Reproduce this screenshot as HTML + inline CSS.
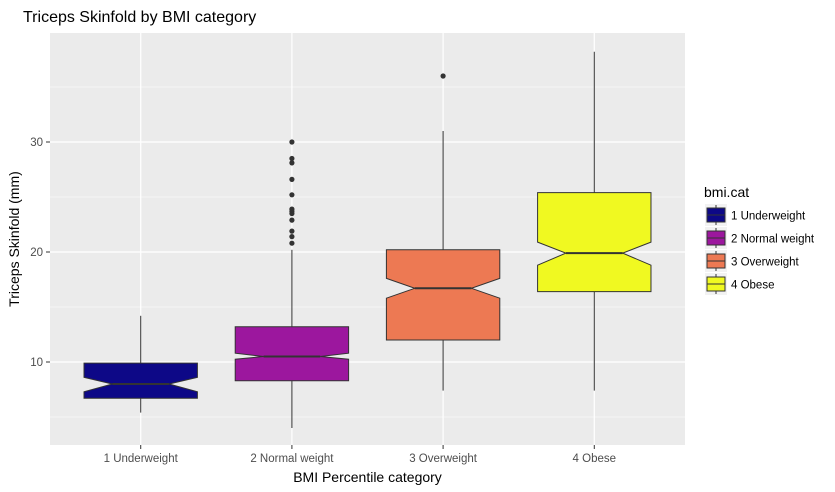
<!DOCTYPE html>
<html><head><meta charset="utf-8"><style>
body{margin:0;background:#fff;}
svg{display:block;font-family:"Liberation Sans",Arial,sans-serif;}
</style></head><body>
<svg id="chart" width="835" height="492"></svg>
<script>
const categories=["1 Underweight","2 Normal weight","3 Overweight","4 Obese"];
const colors=["#0d0887","#9c179e","#ed7953","#f0f921"];
const lowerWhisker=[5.4,4.0,7.4,7.4];
const q1=[6.7,8.3,12.0,16.4];
const medians=[8.0,10.5,16.7,19.9];
const q3=[9.9,13.2,20.2,25.4];
const upperWhisker=[14.2,20.2,31.0,38.2];
const notchLo=[7.3,10.25,15.8,18.8];
const notchHi=[8.6,10.8,17.6,20.9];
const outliers=[[],[30,28.5,28.1,26.6,25.2,23.9,23.7,23.5,22.9,21.9,21.4,20.8],[36],[]];
const yTicks=[10,20,30];
const yMinor=[5,15,25,35];

const NS="http://www.w3.org/2000/svg";
const svg=document.getElementById('chart');
const PL=50,PR=685,PT=33,PB=445;
const y=v=>472-11*v;
const step=(PR-PL)/4.2;
const x=i=>PL+(0.6+i)*step;
function el(t,a,p){const e=document.createElementNS(NS,t);for(const k in a)e.setAttribute(k,a[k]);(p||svg).appendChild(e);return e;}

const title=el('text',{x:23,y:22,'font-size':16,fill:'#000'});title.textContent="Triceps Skinfold by BMI category";


const panel=el('rect',{x:PL,y:PT,width:PR-PL,height:PB-PT,fill:'#ebebeb'});


yMinor.forEach(v=>{const l=el('line',{x1:PL,x2:PR,y1:y(v),y2:y(v),stroke:'#fff','stroke-width':0.6});

});
yTicks.forEach(v=>{const l=el('line',{x1:PL,x2:PR,y1:y(v),y2:y(v),stroke:'#fff','stroke-width':1.2});


el('line',{x1:PL-4,x2:PL,y1:y(v),y2:y(v),stroke:'#333','stroke-width':1});
const t=el('text',{x:PL-7,y:y(v)+4,'font-size':11.5,fill:'#4d4d4d','text-anchor':'end'});t.textContent=v;

});
categories.forEach((c,i)=>{const cx=x(i);
const g=el('line',{x1:cx,x2:cx,y1:PT,y2:PB,stroke:'#fff','stroke-width':1.2});


el('line',{x1:cx,x2:cx,y1:PB,y2:PB+4,stroke:'#333','stroke-width':1});
const t=el('text',{x:cx,y:PB+17,'font-size':11.5,fill:'#4d4d4d','text-anchor':'middle'});t.textContent=c;

});
categories.forEach((c,i)=>{const cx=x(i),hw=0.375*step,nw=hw*0.5;
const g=el('g',{});


el('line',{x1:cx,x2:cx,y1:y(upperWhisker[i]),y2:y(q3[i]),stroke:'#333','stroke-width':1},g);
el('line',{x1:cx,x2:cx,y1:y(q1[i]),y2:y(lowerWhisker[i]),stroke:'#333','stroke-width':1},g);
const L=cx-hw,R=cx+hw;
const d=`M${L},${y(q3[i])}L${R},${y(q3[i])}L${R},${y(notchHi[i])}L${cx+nw},${y(medians[i])}L${R},${y(notchLo[i])}L${R},${y(q1[i])}L${L},${y(q1[i])}L${L},${y(notchLo[i])}L${cx-nw},${y(medians[i])}L${L},${y(notchHi[i])}Z`;
el('path',{d,fill:colors[i],stroke:'#333','stroke-width':1},g);
el('line',{x1:cx-nw,x2:cx+nw,y1:y(medians[i]),y2:y(medians[i]),stroke:'#333','stroke-width':2},g);
outliers[i].forEach(v=>{const p=el('circle',{cx:cx,cy:y(v),r:2.6,fill:'#333'},g);

});
});
const yt=el('text',{x:0,y:0,'font-size':14,fill:'#000','text-anchor':'middle',transform:`translate(19,${(PT+PB)/2}) rotate(-90)`});yt.textContent="Triceps Skinfold (mm)";


const xt=el('text',{x:(PL+PR)/2,y:482,'font-size':14,fill:'#000','text-anchor':'middle'});xt.textContent="BMI Percentile category";


const lt=el('text',{x:704,y:197,'font-size':14,fill:'#000'});lt.textContent="bmi.cat";


categories.forEach((c,i)=>{const ty=204+i*23;
const g=el('g',{});


el('rect',{x:705,y:ty,width:22,height:22,fill:'#f2f2f2'},g);
el('line',{x1:716,x2:716,y1:ty+1,y2:ty+21,stroke:'#333','stroke-width':1},g);
el('rect',{x:707,y:ty+4,width:18,height:14,fill:colors[i],stroke:'#333','stroke-width':1},g);
el('line',{x1:707,x2:725,y1:ty+11,y2:ty+11,stroke:'#333','stroke-width':1},g);
const t=el('text',{x:731,y:ty+15.5,'font-size':11.5,fill:'#000'},g);t.textContent=c;});
</script>
</body></html>
